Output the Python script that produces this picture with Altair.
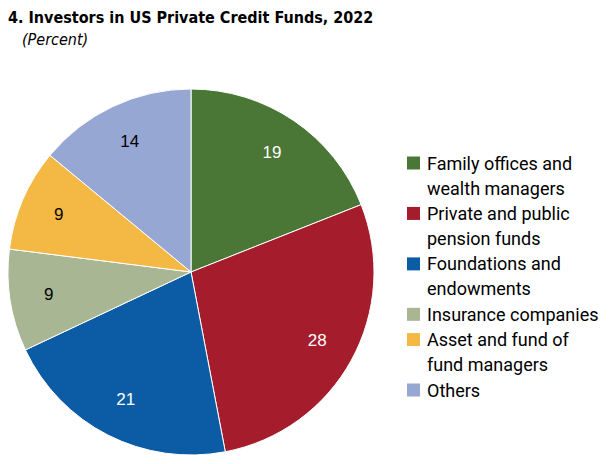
import altair as alt
import pandas as pd

title_text = "4. Investors in US Private Credit Funds, 2022"
subtitle_text = "(Percent)"
categories = [
    "Family offices and wealth managers",
    "Private and public pension funds",
    "Foundations and endowments",
    "Insurance companies",
    "Asset and fund of fund managers",
    "Others",
]
legend_labels = [
    "Family offices and|wealth managers",
    "Private and public|pension funds",
    "Foundations and|endowments",
    "Insurance companies",
    "Asset and fund of|fund managers",
    "Others",
]
values = [19, 28, 21, 9, 9, 14]
colors = ["#4a7636", "#a51d2d", "#0b5ca4", "#a8b693", "#f4b944", "#97a7d3"]

FONT = "Roboto, Liberation Sans, sans-serif"
TFONT = "DejaVu Sans Condensed, Roboto, sans-serif"

# legend rows: each entry starts after the lines of the previous entries
line_start = []
acc = 0
for lab in legend_labels:
    line_start.append(acc)
    acc += lab.count("|") + 1

df = pd.DataFrame({
    "idx": list(range(len(categories))),
    "category": categories,
    "legend": legend_labels,
    "value": values,
    "line": line_start,
})

color_scale = alt.Scale(domain=categories, range=colors)

CX, CY, R = 183, 264, 183

base = alt.Chart(df).encode(
    theta=alt.Theta("value:Q", stack=True),
    order=alt.Order("idx:Q"),
)

pie = base.mark_arc(outerRadius=R, stroke="white", strokeWidth=1).encode(
    color=alt.Color("category:N", scale=color_scale, legend=None),
    x=alt.value(CX),
    y=alt.value(CY),
)

labels = base.mark_text(radius=144, fontSize=17, font="Liberation Sans, Arial, sans-serif").encode(
    text=alt.Text("value:Q"),
    x=alt.value(CX),
    y=alt.value(CY),
    color=alt.condition(alt.datum.idx < 3, alt.value("white"), alt.value("black")),
)

yscale = alt.Scale(domain=[0, 9], range=[155, 382])

leg_sq = alt.Chart(df).mark_square(size=169, opacity=1).encode(
    x=alt.value(405.5),
    y=alt.Y("line:Q", scale=yscale, axis=None),
    color=alt.Color("category:N", scale=color_scale, legend=None),
)

leg_txt = alt.Chart(df).mark_text(
    align="left", baseline="alphabetic", dy=6.5, fontSize=18, lineHeight=25,
    lineBreak="|", font=FONT, color="black",
).encode(
    x=alt.value(419),
    y=alt.Y("line:Q", scale=yscale, axis=None),
    text="legend:N",
)

title = alt.Chart(pd.DataFrame({"t": [title_text]})).mark_text(
    align="left", baseline="alphabetic", fontSize=16, fontWeight="bold", font=TFONT, color="black",
).encode(x=alt.value(0), y=alt.value(15), text="t:N")

subtitle = alt.Chart(pd.DataFrame({"t": [subtitle_text]})).mark_text(
    align="left", baseline="alphabetic", fontSize=16, fontStyle="italic", font=TFONT, color="black",
).encode(x=alt.value(14), y=alt.value(37), text="t:N")

chart = alt.layer(pie, labels, leg_sq, leg_txt, title, subtitle).properties(
    width=593, height=448, autosize=alt.AutoSizeParams(type="none"), padding=0,
).configure_view(stroke=None)

chart.save("out.html", embed_options={"renderer": "svg", "actions": False})
